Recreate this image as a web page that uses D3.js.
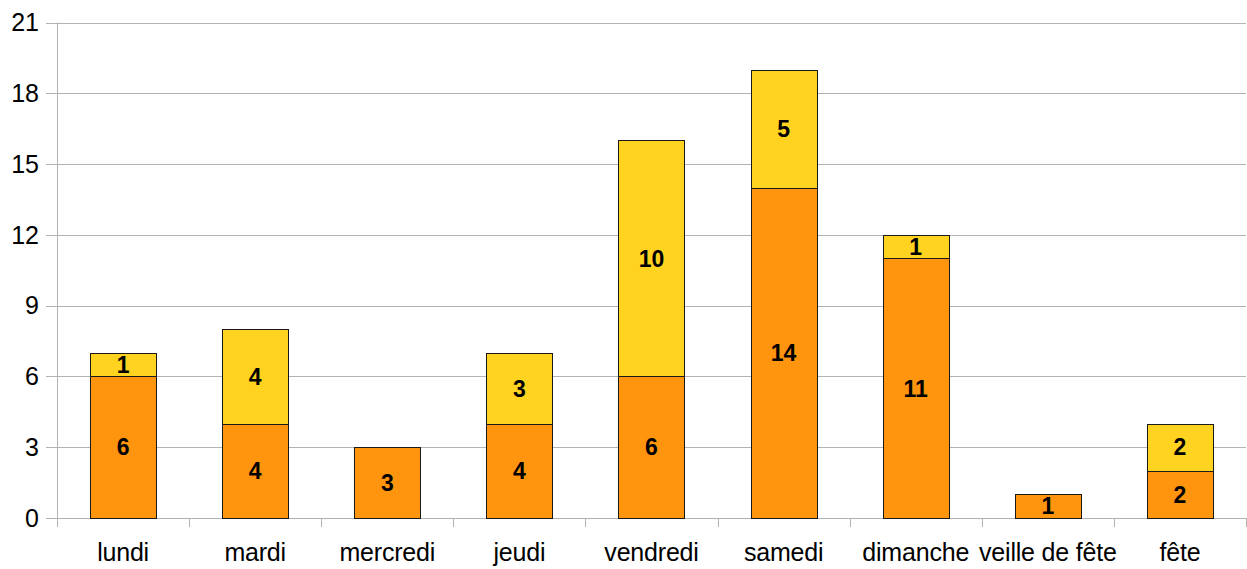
<!DOCTYPE html>
<html><head><meta charset="utf-8">
<script src="https://cdn.jsdelivr.net/npm/d3@7"></script>
<style>body{margin:0;background:#fff}svg{display:block}</style>
</head><body>
<svg id="c" width="1247" height="569"></svg>
<script>
const categories = ["lundi","mardi","mercredi","jeudi","vendredi","samedi","dimanche","veille de fête","fête"];
const seriesA = [6,4,3,4,6,14,11,1,2];
const seriesB = [1,4,0,3,10,5,1,0,2];
const yTicks = [0,3,6,9,12,15,18,21];
const colors = ["#ff950e","#ffd320"];

const svg = d3.select("#c");
const L = 57, R = 1246, T = 22.5, B = 518;
const x = d3.scaleBand().domain(categories).range([L, R]).paddingInner(0.5).paddingOuter(0.25);
const y = d3.scaleLinear().domain([0,21]).range([B, T]);
const font = "Liberation Sans, Arial, sans-serif";

svg.append("g").selectAll("line").data(yTicks).join("line")
  .attr("x1", L-11).attr("x2", R).attr("y1", d=>Math.round(y(d))+0.5).attr("y2", d=>Math.round(y(d))+0.5)
  .attr("stroke","#b3b3b3").attr("stroke-width",1);
svg.append("line").attr("x1",L+0.5).attr("x2",L+0.5).attr("y1",T).attr("y2",B+9).attr("stroke","#b3b3b3");
const step = (R-L)/categories.length;
svg.append("g").selectAll("line").data(d3.range(categories.length+1)).join("line")
  .attr("x1", i=>Math.round(L+i*step)+0.5).attr("x2", i=>Math.round(L+i*step)+0.5)
  .attr("y1", B).attr("y2", B+9).attr("stroke","#b3b3b3");

svg.append("g").selectAll("text").data(yTicks).join("text")
  .attr("x", 39).attr("y", d=>y(d)).attr("dy","0.35em").attr("text-anchor","end")
  .attr("font-family",font).attr("font-size",25).attr("fill","#000")
  .text(d=>d);
svg.append("g").selectAll("text").data(categories).join("text")
  .attr("x", d=>x(d)+x.bandwidth()/2).attr("y", 561).attr("text-anchor","middle")
  .attr("font-family",font).attr("font-size",25).attr("letter-spacing","-0.2").attr("fill","#000")
  .text(d=>d);

const data = categories.map((c,i)=>({cat:c, a:seriesA[i], b:seriesB[i]}));
const stack = d3.stack().keys(["a","b"])(data);
stack.forEach((layer, li) => {
  const g = svg.append("g");
  layer.forEach(seg => {
    const v = seg[1]-seg[0];
    if (v <= 0) return;
    const x0 = x(seg.data.cat);
    g.append("rect").attr("x", Math.round(x0)+0.5).attr("y", Math.round(y(seg[1]))+0.5)
      .attr("width", Math.round(x.bandwidth())).attr("height", Math.round(y(seg[0]))-Math.round(y(seg[1])))
      .attr("fill", colors[li]).attr("stroke","#1a1a1a").attr("stroke-width",1);
    g.append("text").attr("x", x0 + x.bandwidth()/2).attr("y", (y(seg[0])+y(seg[1]))/2)
      .attr("dy","0.36em").attr("text-anchor","middle")
      .attr("font-family",font).attr("font-weight","bold").attr("font-size",23)
      .attr("fill","#000").text(v);
  });
});
</script>
</body></html>
